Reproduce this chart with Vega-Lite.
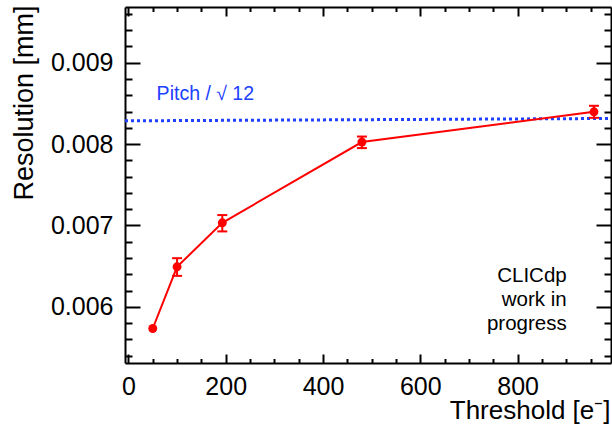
{
  "$schema": "https://vega.github.io/schema/vega-lite/v6.json",
  "width": 486,
  "height": 356,
  "autosize": {"type": "none"},
  "padding": {"left": 125, "top": 7, "right": 1, "bottom": 62},
  "background": "white",
  "config": {
    "view": {"stroke": null},
    "font": "Liberation Sans",
    "axis": {
      "grid": false,
      "labelFont": "Liberation Sans",
      "titleFont": "Liberation Sans",
      "labelFontSize": 25,
      "titleFontSize": 26,
      "titleFontWeight": "normal",
      "labelColor": "black",
      "titleColor": "black",
      "tickColor": "black",
      "domainColor": "black",
      "tickWidth": 2,
      "domainWidth": 2,
      "labelFlush": false,
      "labelOverlap": false
    }
  },
  "datasets": {
    "pts": [
      {"thr": 50, "res": 0.005734},
      {"thr": 100, "res": 0.006492},
      {"thr": 193, "res": 0.007033},
      {"thr": 480, "res": 0.008025},
      {"thr": 957, "res": 0.008397}
    ],
    "errs": [
      {"thr": 100, "lo": 0.006381, "hi": 0.006598},
      {"thr": 193, "lo": 0.006927, "hi": 0.007128},
      {"thr": 480, "lo": 0.007951, "hi": 0.008093},
      {"thr": 957, "lo": 0.008323, "hi": 0.008471}
    ],
    "pitch": [
      {"thr": -7, "res": 0.008286},
      {"thr": 992, "res": 0.008315}
    ],
    "pitchlabel": [{"thr": 58, "res": 0.008544, "txt": "Pitch / √ 12"}],
    "clic": [{"thr": 901, "res": 0.006307, "txt": "CLICdp\nwork in\nprogress"}]
  },
  "layer": [
    {
      "data": {"name": "pitch"},
      "mark": {"type": "line", "color": "#2040ff", "strokeWidth": 3, "strokeDash": [3, 3], "clip": true},
      "encoding": {
        "x": {"field": "thr", "type": "quantitative", "scale": {"domain": [-7, 992], "zero": false, "nice": false},
          "axis": {"orient": "bottom", "values": [0, 200, 400, 600, 800], "format": "d", "tickSize": -9, "labelPadding": 20,
            "domain": true, "title": "Threshold [e⁻]", "titleX": 485, "titleY": 55, "titleAlign": "right", "titleBaseline": "alphabetic", "titleAnchor": "end"}},
        "y": {"field": "res", "type": "quantitative", "scale": {"domain": [0.00531, 0.009685], "zero": false, "nice": false},
          "axis": {"orient": "left", "values": [0.006, 0.007, 0.008, 0.009], "format": ".3f", "tickSize": -15, "labelPadding": 27,
            "domain": true, "title": "Resolution [mm]", "titleFontSize": 27, "titleAngle": -90, "titleX": -93, "titleY": -2, "titleAlign": "right", "titleBaseline": "alphabetic", "titleAnchor": "end"}}
      }
    },
    {
      "data": {"name": "pts"},
      "mark": {"type": "line", "color": "#ff0000", "strokeWidth": 2},
      "encoding": {
        "x": {"field": "thr", "type": "quantitative", "scale": {"domain": [-7, 992], "zero": false, "nice": false},
          "axis": {"orient": "bottom", "values": [50, 100, 150, 250, 300, 350, 450, 500, 550, 650, 700, 750, 850, 900, 950], "tickSize": -4.5, "labels": false, "domain": false, "title": null}},
        "y": {"field": "res", "type": "quantitative", "scale": {"domain": [0.00531, 0.009685], "zero": false, "nice": false},
          "axis": {"orient": "left", "values": [0.0054, 0.0056, 0.0058, 0.0062, 0.0064, 0.0066, 0.0068, 0.0072, 0.0074, 0.0076, 0.0078, 0.0082, 0.0084, 0.0086, 0.0088, 0.0092, 0.0094, 0.0096], "tickSize": -7, "labels": false, "domain": false, "title": null}}
      }
    },
    {
      "data": {"name": "errs"},
      "mark": {"type": "rule", "color": "#ff0000", "strokeWidth": 2},
      "encoding": {
        "x": {"field": "thr", "type": "quantitative", "scale": {"domain": [-7, 992], "zero": false, "nice": false},
          "axis": {"orient": "top", "values": [0, 200, 400, 600, 800], "tickSize": -9, "labels": false, "domain": true, "title": null}},
        "y": {"field": "lo", "type": "quantitative", "scale": {"domain": [0.00531, 0.009685], "zero": false, "nice": false},
          "axis": {"orient": "right", "values": [0.006, 0.007, 0.008, 0.009], "tickSize": -15, "labels": false, "domain": true, "title": null}},
        "y2": {"field": "hi"}
      }
    },
    {
      "data": {"name": "errs"},
      "mark": {"type": "tick", "orient": "horizontal", "color": "#ff0000", "size": 10, "thickness": 2, "opacity": 1},
      "encoding": {
        "x": {"field": "thr", "type": "quantitative", "scale": {"domain": [-7, 992], "zero": false, "nice": false},
          "axis": {"orient": "top", "values": [50, 100, 150, 250, 300, 350, 450, 500, 550, 650, 700, 750, 850, 900, 950], "tickSize": -4.5, "labels": false, "domain": false, "title": null}},
        "y": {"field": "lo", "type": "quantitative", "scale": {"domain": [0.00531, 0.009685], "zero": false, "nice": false},
          "axis": {"orient": "right", "values": [0.0054, 0.0056, 0.0058, 0.0062, 0.0064, 0.0066, 0.0068, 0.0072, 0.0074, 0.0076, 0.0078, 0.0082, 0.0084, 0.0086, 0.0088, 0.0092, 0.0094, 0.0096], "tickSize": -7, "labels": false, "domain": false, "title": null}}
      }
    },
    {
      "data": {"name": "errs"},
      "mark": {"type": "tick", "orient": "horizontal", "color": "#ff0000", "size": 10, "thickness": 2, "opacity": 1},
      "encoding": {
        "x": {"field": "thr", "type": "quantitative", "scale": {"domain": [-7, 992], "zero": false, "nice": false}, "axis": null},
        "y": {"field": "hi", "type": "quantitative", "scale": {"domain": [0.00531, 0.009685], "zero": false, "nice": false}, "axis": null}
      }
    },
    {
      "data": {"name": "pts"},
      "mark": {"type": "circle", "color": "#ff0000", "size": 80, "opacity": 1},
      "encoding": {
        "x": {"field": "thr", "type": "quantitative", "scale": {"domain": [-7, 992], "zero": false, "nice": false}, "axis": null},
        "y": {"field": "res", "type": "quantitative", "scale": {"domain": [0.00531, 0.009685], "zero": false, "nice": false}, "axis": null}
      }
    },
    {
      "data": {"name": "pitchlabel"},
      "mark": {"type": "text", "color": "#2040ff", "fontSize": 19.5, "align": "left", "baseline": "alphabetic", "font": "Liberation Sans"},
      "encoding": {
        "x": {"field": "thr", "type": "quantitative", "scale": {"domain": [-7, 992], "zero": false, "nice": false}, "axis": null},
        "y": {"field": "res", "type": "quantitative", "scale": {"domain": [0.00531, 0.009685], "zero": false, "nice": false}, "axis": null},
        "text": {"field": "txt"}
      }
    },
    {
      "data": {"name": "clic"},
      "mark": {"type": "text", "color": "black", "fontSize": 20.5, "align": "right", "baseline": "alphabetic", "lineBreak": "\n", "lineHeight": 24, "font": "Liberation Sans"},
      "encoding": {
        "x": {"field": "thr", "type": "quantitative", "scale": {"domain": [-7, 992], "zero": false, "nice": false}, "axis": null},
        "y": {"field": "res", "type": "quantitative", "scale": {"domain": [0.00531, 0.009685], "zero": false, "nice": false}, "axis": null},
        "text": {"field": "txt"}
      }
    }
  ],
  "resolve": {"axis": {"x": "independent", "y": "independent"}}
}
